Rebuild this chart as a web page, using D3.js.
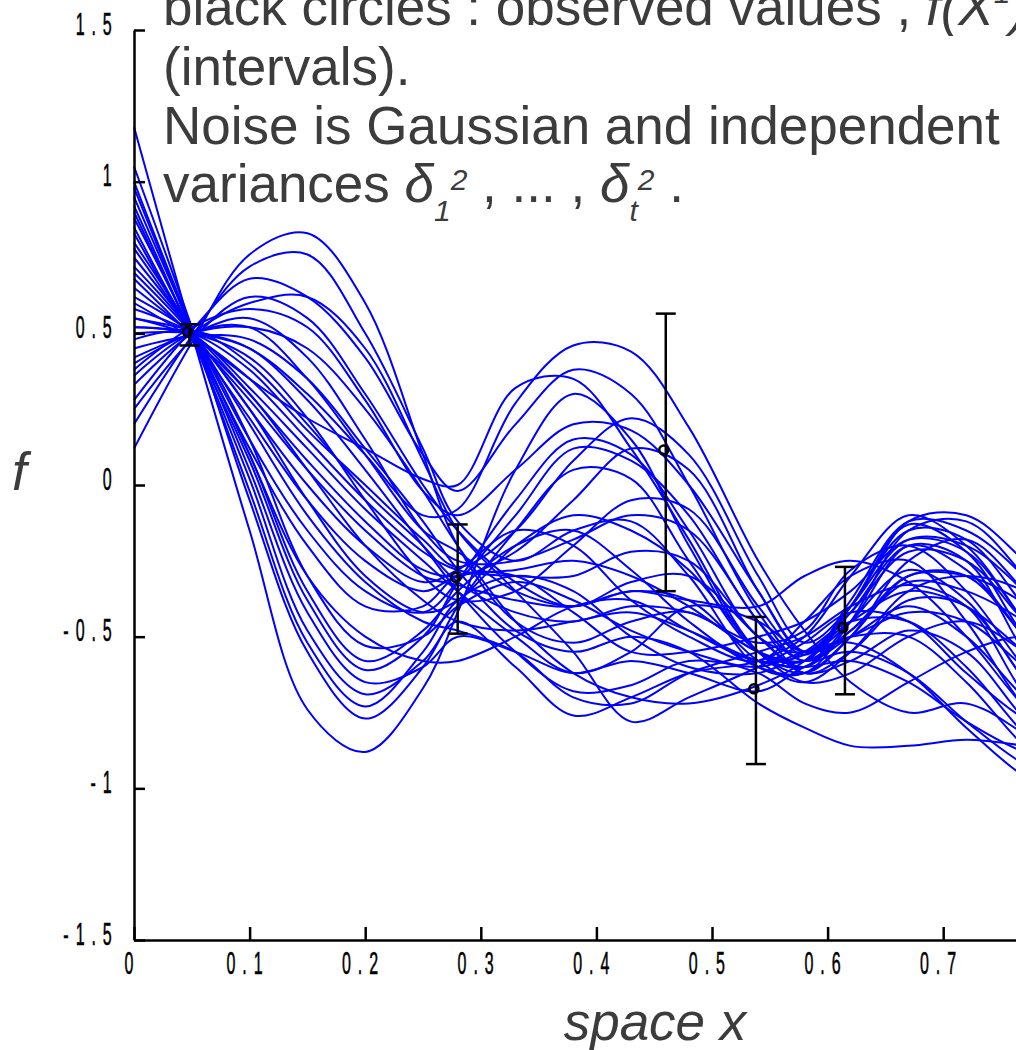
<!DOCTYPE html>
<html>
<head>
<meta charset="utf-8">
<script src="https://cdn.jsdelivr.net/npm/d3@7"></script>
<style>
  body { margin: 0; background: #fff; }
  svg { display: block; }
</style>
</head>
<body>
<script>
var xKnots = [0, 0.05, 0.10, 0.15, 0.20, 0.25, 0.28, 0.33, 0.38, 0.43, 0.48, 0.54, 0.58, 0.62, 0.67, 0.72, 0.77, 0.82];

// posterior samples f(x), one row per blue curve
var samples = [
  [1.18, 0.50, -0.15, -0.74, -0.88, -0.67, -0.42, 0.05, 0.30, 0.15, -0.20, -0.55, -0.60, -0.40, -0.15, -0.18, -0.40, -0.65],
  [1.05, 0.52, -0.05, -0.55, -0.77, -0.60, -0.40, -0.15, 0.05, 0.02, -0.25, -0.55, -0.58, -0.38, -0.12, -0.15, -0.30, -0.50],
  [0.98, 0.50, -0.02, -0.52, -0.73, -0.55, -0.38, -0.30, -0.35, -0.50, -0.60, -0.62, -0.55, -0.45, -0.45, -0.60, -0.82, -1.00],
  [0.92, 0.49, 0.02, -0.48, -0.69, -0.58, -0.45, -0.60, -0.76, -0.70, -0.62, -0.58, -0.50, -0.30, -0.10, -0.20, -0.45, -0.70],
  [0.88, 0.50, 0.05, -0.42, -0.65, -0.60, -0.50, -0.55, -0.62, -0.58, -0.62, -0.68, -0.60, -0.55, -0.62, -0.78, -0.92, -1.00],
  [0.83, 0.48, 0.08, -0.38, -0.61, -0.50, -0.32, -0.05, 0.15, 0.10, -0.15, -0.50, -0.55, -0.42, -0.22, -0.25, -0.45, -0.65],
  [0.78, 0.49, 0.10, -0.35, -0.58, -0.48, -0.35, -0.20, -0.15, -0.28, -0.45, -0.60, -0.62, -0.50, -0.30, -0.30, -0.50, -0.70],
  [0.72, 0.50, 0.15, -0.30, -0.53, -0.50, -0.40, -0.32, -0.38, -0.48, -0.55, -0.60, -0.55, -0.52, -0.62, -0.80, -0.96, -1.05],
  [0.95, 0.52, 0.15, -0.15, -0.35, -0.42, -0.32, -0.10, 0.12, 0.08, -0.10, -0.45, -0.58, -0.50, -0.40, -0.50, -0.70, -0.85],
  [0.85, 0.50, 0.22, -0.05, -0.25, -0.35, -0.30, -0.28, -0.25, -0.30, -0.40, -0.55, -0.58, -0.40, -0.13, -0.22, -0.50, -0.75],
  [0.75, 0.51, 0.25, 0.00, -0.20, -0.32, -0.28, -0.15, -0.20, -0.38, -0.50, -0.58, -0.45, -0.30, -0.25, -0.45, -0.73, -0.90],
  [0.68, 0.49, 0.28, 0.05, -0.15, -0.30, -0.33, -0.38, -0.40, -0.35, -0.38, -0.58, -0.65, -0.55, -0.35, -0.30, -0.35, -0.50],
  [0.62, 0.50, 0.30, 0.08, -0.12, -0.28, -0.30, -0.22, -0.05, 0.12, 0.05, -0.35, -0.55, -0.45, -0.20, -0.25, -0.55, -0.80],
  [0.58, 0.50, 0.32, 0.12, -0.08, -0.25, -0.35, -0.50, -0.62, -0.55, -0.40, -0.45, -0.55, -0.50, -0.50, -0.65, -0.86, -1.00],
  [0.55, 0.49, 0.35, 0.15, -0.05, -0.22, -0.28, -0.30, -0.30, -0.22, -0.25, -0.50, -0.60, -0.45, -0.28, -0.38, -0.64, -0.85],
  [0.52, 0.50, 0.38, 0.18, 0.00, -0.18, -0.27, -0.15, 0.08, 0.22, 0.10, -0.30, -0.52, -0.40, -0.12, -0.10, -0.25, -0.45],
  [0.48, 0.51, 0.40, 0.20, -0.02, -0.20, -0.32, -0.42, -0.45, -0.40, -0.42, -0.52, -0.48, -0.28, -0.20, -0.35, -0.60, -0.80],
  [0.60, 0.48, 0.30, 0.05, -0.20, -0.38, -0.45, -0.48, -0.45, -0.42, -0.48, -0.58, -0.60, -0.58, -0.65, -0.78, -0.88, -0.92],
  [0.70, 0.50, 0.25, -0.05, -0.30, -0.42, -0.38, -0.20, -0.10, -0.15, -0.28, -0.55, -0.65, -0.62, -0.50, -0.45, -0.55, -0.70],
  [0.80, 0.51, 0.20, -0.10, -0.32, -0.45, -0.48, -0.55, -0.70, -0.72, -0.62, -0.55, -0.50, -0.40, -0.33, -0.40, -0.69, -0.90],
  [0.12, 0.47, 0.76, 0.83, 0.60, 0.10, -0.20, -0.45, -0.52, -0.45, -0.42, -0.55, -0.58, -0.48, -0.32, -0.35, -0.45, -0.60],
  [0.20, 0.49, 0.72, 0.76, 0.50, 0.12, -0.12, -0.25, -0.15, -0.12, -0.30, -0.60, -0.62, -0.45, -0.15, -0.12, -0.30, -0.55],
  [0.28, 0.51, 0.68, 0.62, 0.42, 0.10, -0.02, 0.20, 0.38, 0.30, 0.00, -0.42, -0.58, -0.48, -0.30, -0.30, -0.39, -0.55],
  [0.33, 0.50, 0.60, 0.62, 0.45, 0.08, -0.15, -0.35, -0.55, -0.78, -0.70, -0.60, -0.52, -0.42, -0.45, -0.62, -0.77, -0.85],
  [0.38, 0.52, 0.58, 0.52, 0.28, -0.02, -0.10, 0.05, 0.20, 0.18, 0.00, -0.35, -0.55, -0.50, -0.42, -0.45, -0.60, -0.75],
  [0.42, 0.50, 0.55, 0.42, 0.15, -0.15, -0.25, -0.25, -0.18, -0.10, -0.15, -0.45, -0.62, -0.55, -0.38, -0.40, -0.64, -0.85],
  [0.50, 0.50, 0.45, 0.30, 0.10, -0.10, -0.08, 0.27, 0.46, 0.44, 0.19, -0.25, -0.48, -0.65, -0.75, -0.72, -0.82, -0.95],
  [0.65, 0.50, 0.35, 0.22, 0.12, 0.02, 0.00, 0.32, 0.35, 0.12, -0.18, -0.55, -0.62, -0.50, -0.25, -0.18, -0.35, -0.60],
  [0.45, 0.49, 0.48, 0.35, 0.12, -0.12, -0.28, -0.48, -0.55, -0.50, -0.55, -0.72, -0.80, -0.86, -0.86, -0.84, -0.86, -0.90],
  [0.55, 0.51, 0.45, 0.28, 0.05, -0.20, -0.35, -0.55, -0.68, -0.66, -0.58, -0.62, -0.72, -0.75, -0.65, -0.55, -0.50, -0.55],
  [1.00, 0.52, 0.10, -0.30, -0.50, -0.58, -0.58, -0.50, -0.40, -0.38, -0.48, -0.58, -0.56, -0.45, -0.35, -0.40, -0.55, -0.70],
  [0.36, 0.50, 0.52, 0.35, 0.10, -0.15, -0.22, -0.35, -0.40, -0.35, -0.38, -0.40, -0.30, -0.25, -0.32, -0.50, -0.73, -0.90],
  [0.90, 0.50, 0.12, -0.20, -0.40, -0.40, -0.30, -0.30, -0.42, -0.55, -0.55, -0.50, -0.45, -0.35, -0.18, -0.22, -0.45, -0.70],
  [0.25, 0.48, 0.62, 0.55, 0.30, 0.00, -0.15, -0.32, -0.40, -0.32, -0.30, -0.50, -0.62, -0.58, -0.48, -0.55, -0.77, -0.95],
  [0.52, 0.50, 0.42, 0.22, -0.05, -0.30, -0.38, -0.35, -0.20, -0.05, -0.08, -0.40, -0.56, -0.40, -0.18, -0.20, -0.35, -0.55],
  [0.40, 0.50, 0.52, 0.45, 0.25, -0.02, -0.20, -0.45, -0.62, -0.70, -0.72, -0.66, -0.58, -0.42, -0.20, -0.28, -0.50, -0.75]
];

// observed values with their intervals
var obsX = [0.048, 0.28, 0.46, 0.538, 0.615];
var obsY = [0.505, -0.305, 0.115, -0.672, -0.47];
var obsLow = [0.46, -0.49, -0.35, -0.92, -0.69];
var obsHigh = [0.53, -0.13, 0.565, -0.435, -0.27];

var yTicks = [-1.5, -1, -0.5, 0, 0.5, 1, 1.5];
var yTickLabels = ["- 1 . 5", "- 1", "- 0 . 5", "0", "0 . 5", "1", "1 . 5"];
var xTicks = [0, 0.1, 0.2, 0.3, 0.4, 0.5, 0.6, 0.7];
var xTickLabels = ["0", "0 . 1", "0 . 2", "0 . 3", "0 . 4", "0 . 5", "0 . 6", "0 . 7"];

var width = 1016;
var height = 1050;
var textColor = "#3c3c3c";

var svg = d3.select("body")
  .append("svg")
  .attr("width", width)
  .attr("height", height);

var x = d3.scaleLinear().domain([0, 1]).range([134, 1290]);
var y = d3.scaleLinear().domain([-1.5, 1.5]).range([940, 30]);

var line = d3.line()
  .x(function(d, i) { return x(xKnots[i]); })
  .y(function(d) { return y(d); })
  .curve(d3.curveCatmullRom.alpha(0.5));

svg.append("g")
  .selectAll("path")
  .data(samples)
  .enter()
  .append("path")
  .attr("d", line)
  .attr("fill", "none")
  .attr("stroke", "#0000ff")
  .attr("stroke-width", 2);

// axes, ticks pointing inward
var yAxis = d3.axisLeft(y)
  .tickValues(yTicks)
  .tickSize(-11)
  .tickSizeOuter(0)
  .tickFormat(function(d, i) { return yTickLabels[i]; });

var gy = svg.append("g")
  .attr("transform", "translate(134,0)")
  .call(yAxis);

var xAxis = d3.axisBottom(x)
  .tickValues(xTicks)
  .tickSize(-13)
  .tickSizeOuter(0)
  .tickFormat(function(d, i) { return xTickLabels[i]; });

var gx = svg.append("g")
  .attr("transform", "translate(0,940)")
  .call(xAxis);

// x axis line runs on past the right edge, as in the cropped original
gx.select(".domain").attr("d", "M" + x(0) + ",0.5H" + x(1));

[gy, gx].forEach(function(g) {
  g.select(".domain").attr("stroke", "#000").attr("stroke-width", 2.5);
  g.selectAll(".tick line").attr("stroke", "#000").attr("stroke-width", 2.5);
  g.selectAll(".tick text")
    .attr("font-family", "Liberation Sans, Arial, sans-serif")
    .attr("font-size", 32)
    .attr("letter-spacing", 2.5)
    .attr("fill", "#000")
    .attr("stroke", "#000")
    .attr("stroke-width", 0.6)
    .attr("transform", "scale(0.5,1)");
});

gy.selectAll(".tick text").attr("x", -42).attr("y", -6);
gx.selectAll(".tick text").attr("x", -10).attr("y", 11);

// error bars and observed points
var obs = obsX.map(function(v, i) {
  return {x: v, y: obsY[i], lo: obsLow[i], hi: obsHigh[i]};
});

var bars = svg.append("g").selectAll("g")
  .data(obs)
  .enter()
  .append("g")
  .attr("stroke", "#000")
  .attr("stroke-width", 2.5)
  .attr("fill", "none");

bars.append("line")
  .attr("x1", function(d) { return x(d.x); })
  .attr("x2", function(d) { return x(d.x); })
  .attr("y1", function(d) { return y(d.lo); })
  .attr("y2", function(d) { return y(d.hi); });

bars.append("line")
  .attr("x1", function(d) { return x(d.x) - 10; })
  .attr("x2", function(d) { return x(d.x) + 10; })
  .attr("y1", function(d) { return y(d.lo); })
  .attr("y2", function(d) { return y(d.lo); });

bars.append("line")
  .attr("x1", function(d) { return x(d.x) - 10; })
  .attr("x2", function(d) { return x(d.x) + 10; })
  .attr("y1", function(d) { return y(d.hi); })
  .attr("y2", function(d) { return y(d.hi); });

bars.append("circle")
  .attr("cx", function(d) { return x(d.x) - 2; })
  .attr("cy", function(d) { return y(d.y); })
  .attr("r", 4.5);

// axis titles
svg.append("text")
  .text("f")
  .attr("x", 12)
  .attr("y", 490)
  .attr("font-family", "Liberation Sans, Arial, sans-serif")
  .attr("font-style", "italic")
  .attr("font-size", 53)
  .attr("fill", textColor);

svg.append("text")
  .text("space x")
  .attr("x", 655)
  .attr("y", 1040)
  .attr("text-anchor", "middle")
  .attr("font-family", "Liberation Sans, Arial, sans-serif")
  .attr("font-style", "italic")
  .attr("font-size", 53)
  .attr("fill", textColor);

// caption in the top of the plot (its first line is cut by the top edge, as in the original)
var cap = svg.append("g")
  .attr("font-family", "Liberation Sans, Arial, sans-serif")
  .attr("font-size", 53)
  .attr("fill", textColor);

var l1 = cap.append("text").attr("x", 163).attr("y", 25);
l1.append("tspan").text("black circles : observed values , ");
l1.append("tspan").attr("font-style", "italic").text("f(X");
l1.append("tspan").attr("font-style", "italic").attr("font-size", 30).attr("dy", -22).text("1");
l1.append("tspan").attr("font-style", "italic").attr("dy", 22).text(")");

cap.append("text").attr("x", 163).attr("y", 85).text("(intervals).");
cap.append("text").attr("x", 163).attr("y", 144).text("Noise is Gaussian and independent");

var l4 = cap.append("text").attr("x", 163).attr("y", 202);
l4.append("tspan").text("variances ");
l4.append("tspan").attr("font-style", "italic").text("δ");
l4.append("tspan").attr("font-style", "italic").attr("font-size", 30).attr("dy", 19).text("1");
l4.append("tspan").attr("font-style", "italic").attr("font-size", 30).attr("dy", -31).text("2");
l4.append("tspan").attr("dy", 12).text(" , ... , ");
l4.append("tspan").attr("font-style", "italic").text("δ");
l4.append("tspan").attr("font-style", "italic").attr("font-size", 30).attr("dy", 19).text("t");
l4.append("tspan").attr("font-style", "italic").attr("font-size", 30).attr("dy", -31).text("2");
l4.append("tspan").attr("dy", 12).text(" .");
</script>
</body>
</html>
